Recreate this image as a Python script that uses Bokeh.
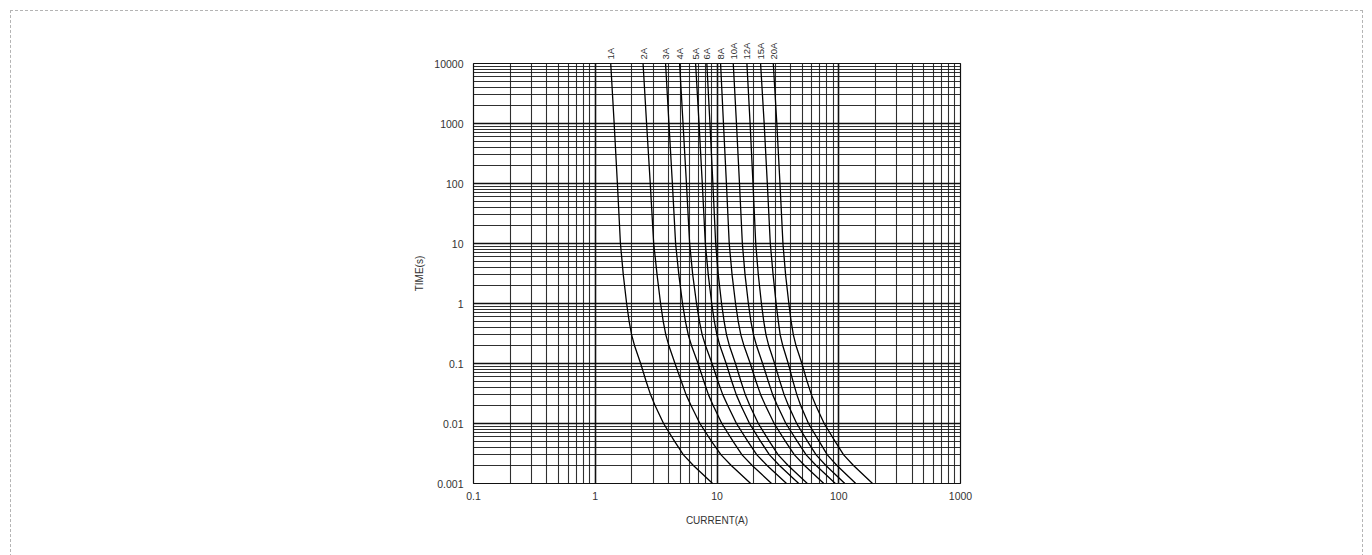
from bokeh.plotting import figure
from bokeh.layouts import column
from bokeh.models import Range1d, FixedTicker, LogAxis
from bokeh.embed import file_html
from bokeh.resources import INLINE

# ---- data ----
x_ticks = [0.1, 1, 10, 100, 1000]
x_tick_labels = ["0.1", "1", "10", "100", "1000"]
y_ticks = [0.001, 0.01, 0.1, 1, 10, 100, 1000, 10000]
y_tick_labels = ["0.001", "0.01", "0.1", "1", "10", "100", "1000", "10000"]

times = [10000, 1000, 100, 10, 3, 1, 0.5, 0.3, 0.2, 0.1, 0.05, 0.03, 0.02,
         0.01, 0.005, 0.003, 0.002, 0.001]

ratings = ["1A", "2A", "3A", "4A", "5A", "6A", "8A", "10A", "12A", "15A", "20A"]
i_1a = [1.34, 1.43, 1.52, 1.61, 1.70, 1.81, 1.90, 1.99, 2.10, 2.36, 2.62, 2.85,
        3.10, 3.64, 4.50, 5.30, 6.40, 9.20]
i_2a = [2.47, 2.64, 2.83, 3.02, 3.22, 3.44, 3.62, 3.80, 4.02, 4.52, 5.10, 5.58,
        6.12, 7.24, 9.05, 10.8, 13.1, 18.9]
i_3a = [3.78, 4.03, 4.30, 4.57, 4.86, 5.21, 5.51, 5.81, 6.17, 6.99, 7.81, 8.52,
        9.30, 10.96, 13.59, 16.06, 19.46, 28.06]
i_4a = [4.93, 5.26, 5.61, 5.96, 6.32, 6.79, 7.18, 7.56, 8.04, 9.11, 10.19, 11.17,
        12.25, 14.45, 17.96, 21.25, 25.79, 37.26]
i_5a = [6.67, 7.12, 7.57, 8.02, 8.48, 9.05, 9.52, 9.99, 10.56, 11.89, 13.23, 14.42,
        15.72, 18.49, 22.86, 26.98, 32.58, 46.92]
i_6a = [8.25, 8.75, 9.25, 9.75, 10.25, 10.9, 11.45, 11.98, 12.62, 14.18, 15.74, 17.1,
        18.6, 21.84, 27.0, 31.8, 38.4, 55.2]
i_8a = [10.7, 11.3, 11.95, 12.6, 13.3, 14.2, 14.95, 15.7, 16.63, 18.76, 20.92,
        22.86, 24.99, 29.48, 36.59, 43.25, 52.35, 75.44]
i_10a = [13.6, 14.45, 15.3, 16.15, 17.0, 18.1, 19.0, 19.95, 21.1, 23.7, 26.4, 28.7,
         31.3, 36.8, 45.8, 54.0, 65.2, 93.8]
i_12a = [17.6, 18.7, 19.75, 20.8, 21.85, 23.17, 24.23, 25.27, 26.57, 29.74, 32.88,
         35.63, 38.6, 45.14, 55.58, 65.19, 78.4, 112.2]
i_15a = [22.8, 24.4, 25.9, 27.4, 28.9, 30.59, 31.92, 33.03, 34.65, 38.47, 42.18,
         45.32, 48.67, 56.42, 69.3, 80.56, 96.64, 138.0]
i_20a = [29.0, 31.0, 32.9, 34.8, 36.6, 38.9, 40.66, 42.39, 44.52, 49.8, 55.0,
         59.7, 64.8, 75.9, 93.6, 109.7, 132.2, 189.5]
curves = [i_1a, i_2a, i_3a, i_4a, i_5a, i_6a, i_8a, i_10a, i_12a, i_15a, i_20a]

# ---- figure (sits inside a dashed page frame 10px from the window edge) ----
OFF = 11
p = figure(width=1351, height=545, x_axis_type="log", y_axis_type="log",
           x_range=Range1d(x_ticks[0], x_ticks[-1]),
           y_range=Range1d(y_ticks[0], y_ticks[-1]),
           output_backend="svg", toolbar_location=None,
           min_border_left=473 - OFF, min_border_right=1362 - 960,
           min_border_top=63 - OFF, min_border_bottom=(OFF + 545) - 483)
p.background_fill_color = "white"
p.border_fill_color = "white"
p.outline_line_color = "#111111"
p.outline_line_width = 1.2


def minor_list(majors):
    out = []
    for m in majors[:-1]:
        for k in range(2, 10):
            out.append(m * k)
    return out


p.xaxis.ticker = FixedTicker(ticks=x_ticks, minor_ticks=minor_list(x_ticks))
p.yaxis.ticker = FixedTicker(ticks=y_ticks, minor_ticks=minor_list(y_ticks))
p.xaxis.major_label_overrides = {t: s for t, s in zip(x_ticks, x_tick_labels)}
p.yaxis.major_label_overrides = {t: s for t, s in zip(y_ticks, y_tick_labels)}

for ax in (p.xaxis, p.yaxis):
    ax.axis_line_color = None
    ax.major_tick_line_color = None
    ax.minor_tick_line_color = None
    ax.major_tick_out = 0
    ax.minor_tick_out = 0
    ax.major_label_text_font = "Liberation Sans"
    ax.major_label_text_font_size = "10.5px"
    ax.major_label_text_color = "#333333"
    ax.axis_label_text_font = "Liberation Sans"
    ax.axis_label_text_font_size = "10px"
    ax.axis_label_text_font_style = "normal"
    ax.axis_label_text_color = "#333333"

p.xaxis.axis_label = "CURRENT(A)"
p.yaxis.axis_label = "TIME(s)"
p.xaxis.major_label_standoff = 8
p.yaxis.major_label_standoff = 10
p.xaxis.axis_label_standoff = 12
p.yaxis.axis_label_standoff = 6

for g in (p.xgrid, p.ygrid):
    g.grid_line_color = "#111111"
    g.grid_line_width = 1.6
    g.grid_line_alpha = 1.0
    g.minor_grid_line_color = "#1a1a1a"
    g.minor_grid_line_width = 1.1
    g.minor_grid_line_alpha = 0.9

for cur in curves:
    p.line(cur, times, line_color="black", line_width=1.3)

# rating labels above the curves: a top axis whose ticks sit at each curve's top
top_axis = LogAxis(ticker=FixedTicker(ticks=[c[0] for c in curves]),
                   major_label_overrides={c[0]: n for c, n in zip(curves, ratings)},
                   major_label_orientation="vertical",
                   axis_line_color=None, major_tick_line_color=None,
                   minor_tick_line_color=None, major_tick_out=0, minor_tick_out=0,
                   major_label_standoff=4,
                   major_label_text_font="Liberation Sans",
                   major_label_text_font_size="9.5px",
                   major_label_text_color="#333333")
p.add_layout(top_axis, "above")

page = column(p, margin=(OFF - 1, 0, 0, OFF - 1),
              styles={"border": "1px dashed #b4b4b4"})

open("out.html", "w").write(file_html(page, INLINE))
